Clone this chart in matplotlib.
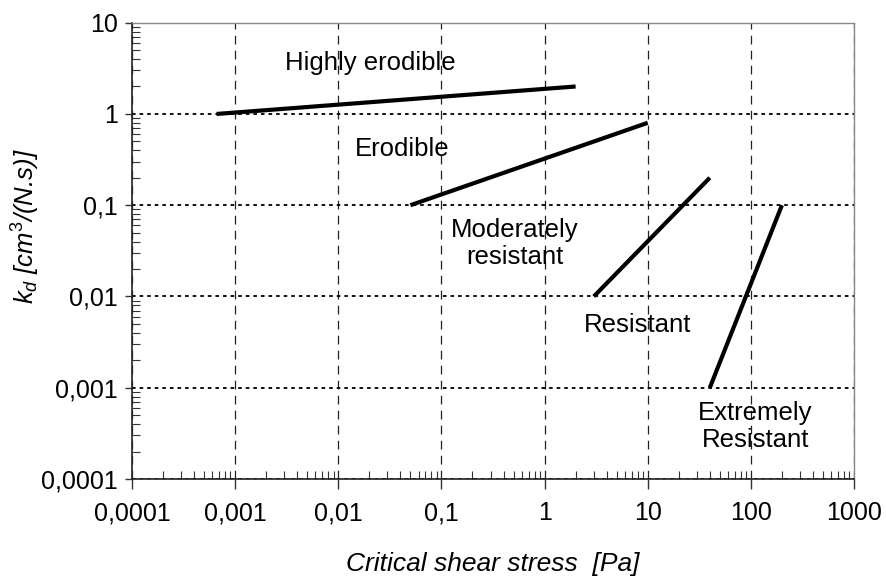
# Erodibility classes: k_d versus critical shear stress (log-log)

import matplotlib
matplotlib.use("Agg")
import matplotlib.pyplot as plt
from matplotlib.ticker import FixedLocator, FixedFormatter, LogLocator, NullFormatter

plt.rcParams['font.family'] = ['Liberation Sans', 'DejaVu Sans']
plt.rcParams['mathtext.fontset'] = 'custom'
plt.rcParams['mathtext.rm'] = 'Liberation Sans'
plt.rcParams['mathtext.it'] = 'Liberation Sans:italic'

# class boundary lines: (tau_c start, tau_c end), (k_d start, k_d end)
highly_x = [0.00066, 2]
highly_y = [1, 2]
erodible_x = [0.05, 10]
erodible_y = [0.1, 0.8]
moderate_x = [3, 40]
moderate_y = [0.01, 0.2]
extreme_x = [40, 200]
extreme_y = [0.001, 0.1]

# class labels and where they sit
class_names = ["Highly erodible", "Erodible", "Moderately\nresistant",
               "Resistant", "Extremely\nResistant"]
class_x = [0.0205, 0.042, 0.51, 7.9, 110]
class_y = [3.6, 0.41, 0.038, 0.0049, 0.00038]

x_ticks = [1e-4, 1e-3, 1e-2, 1e-1, 1, 10, 100, 1000]
x_labels = ["0,0001", "0,001", "0,01", "0,1", "1", "10", "100", "1000"]
y_ticks = [1e-4, 1e-3, 1e-2, 1e-1, 1, 10]
y_labels = ["0,0001", "0,001", "0,01", "0,1", "1", "10"]

fig = plt.figure(figsize=(8.86, 5.77), dpi=100)
ax = fig.add_axes([132 / 886, 1 - 479 / 577, (854 - 132) / 886, (479 - 22.7) / 577])

ax.set_xscale('log')
ax.set_yscale('log')
ax.set_xlim(1e-4, 1e3)
ax.set_ylim(1e-4, 10)

for xs, ys in [(highly_x, highly_y), (erodible_x, erodible_y),
               (moderate_x, moderate_y), (extreme_x, extreme_y)]:
    ax.plot(xs, ys, color='black', lw=3, solid_capstyle='butt', zorder=3)

for name, tx, ty in zip(class_names, class_x, class_y):
    ax.text(tx, ty, name, ha='center', va='center', fontsize=18.5,
            linespacing=1.15, zorder=4)

# grid: dotted horizontals, dashed verticals
ax.xaxis.set_major_locator(FixedLocator(x_ticks))
ax.xaxis.set_major_formatter(FixedFormatter(x_labels))
ax.yaxis.set_major_locator(FixedLocator(y_ticks))
ax.yaxis.set_major_formatter(FixedFormatter(y_labels))
ax.xaxis.set_minor_locator(LogLocator(base=10, subs=range(2, 10), numticks=20))
ax.yaxis.set_minor_locator(LogLocator(base=10, subs=range(2, 10), numticks=20))
ax.xaxis.set_minor_formatter(NullFormatter())
ax.yaxis.set_minor_formatter(NullFormatter())

ax.grid(True, which='major', axis='y', color='black', lw=1.3,
        linestyle=(0, (2, 2.2)))
ax.grid(True, which='major', axis='x', color='#222222', lw=0.9,
        linestyle=(0, (7, 5)))

ax.tick_params(axis='both', which='major', direction='out', length=7,
               width=1, labelsize=18, color='#333333')
ax.tick_params(axis='y', which='major', length=5, pad=5)
ax.tick_params(axis='x', which='major', pad=9)
ax.tick_params(axis='both', which='minor', direction='in', length=6,
               width=0.8, color='#333333')

for side in ['left', 'bottom']:
    ax.spines[side].set_color('#222222')
    ax.spines[side].set_linewidth(1.2)
for side in ['top', 'right']:
    ax.spines[side].set_color('#888888')
    ax.spines[side].set_linewidth(1.0)

ax.set_xlabel("Critical shear stress  [Pa]", fontsize=19, style='italic')
ax.xaxis.set_label_coords(0.5, -0.16)
ax.set_ylabel(r"$k_d$ [cm$^3$/(N.s)]", fontsize=18.5, style='italic')
ax.yaxis.set_label_coords(-0.125, (479 - 226) / (479 - 22.7))

fig.savefig("out.png", dpi=100)
